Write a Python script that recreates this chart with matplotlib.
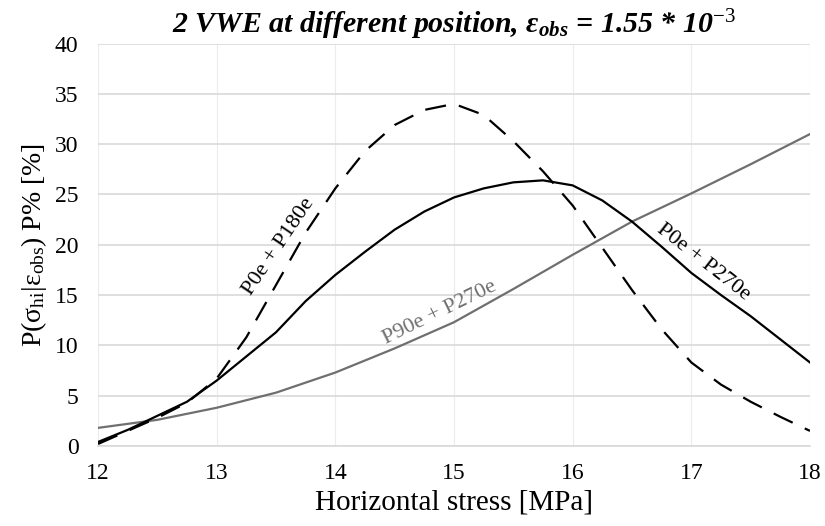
import matplotlib
matplotlib.use("Agg")
import matplotlib.pyplot as plt

plt.rcParams['font.family'] = ['Liberation Serif', 'DejaVu Serif']
plt.rcParams['mathtext.fontset'] = 'custom'
plt.rcParams['mathtext.rm'] = 'Liberation Serif'
plt.rcParams['mathtext.it'] = 'Liberation Serif:italic:bold'
plt.rcParams['mathtext.bf'] = 'Liberation Serif:bold'

# stress [MPa] and probability [%]
x_fine = [12.0, 12.25, 12.5, 12.75, 13.0, 13.25, 13.5, 13.75, 14.0, 14.25, 14.5, 14.75,
          15.0, 15.25, 15.5, 15.75, 16.0, 16.25, 16.5, 16.75, 17.0, 17.25, 17.5, 17.75, 18.0]
p0_p180 = [0.2, 1.5, 2.8, 4.3, 6.7, 10.8, 16.0, 21.2, 25.6, 29.3, 31.9, 33.4,
           34.0, 32.9, 30.3, 27.3, 23.9, 19.7, 15.5, 11.6, 8.3, 6.1, 4.4, 2.9, 1.5]
p0_p270 = [0.4, 1.6, 3.0, 4.4, 6.5, 8.9, 11.3, 14.4, 17.0, 19.3, 21.5, 23.3,
           24.7, 25.6, 26.2, 26.4, 25.9, 24.4, 22.3, 19.8, 17.2, 15.0, 12.9, 10.6, 8.3]

x_coarse = [12.0, 12.5, 13.0, 13.5, 14.0, 14.5, 15.0, 15.5, 16.0, 16.5, 17.0, 17.5, 18.0]
p90_p270 = [1.8, 2.6, 3.8, 5.3, 7.3, 9.7, 12.3, 15.6, 19.0, 22.3, 25.1, 28.0, 31.0]

fig = plt.figure(figsize=(8.25, 5.26), dpi=100)
ax = fig.add_axes([0.1188, 0.1521, 0.863, 0.7652])

ax.plot(x_coarse, p90_p270, color='#6f6f6f', lw=1.6)
ax.plot(x_fine, p0_p270, color='black', lw=1.6)
ax.plot(x_fine, p0_p180, color='black', lw=1.6, dashes=(9.5, 6))

# inline curve labels
ax.text(13.52, 19.8, 'P0e + P180e', rotation=56, fontsize=16,
        ha='center', va='center', rotation_mode='anchor')
ax.text(14.88, 13.2, 'P90e + P270e', rotation=26, fontsize=16, color='#6f6f6f',
        ha='center', va='center', rotation_mode='anchor')
ax.text(17.1, 18.3, 'P0e + P270e', rotation=-38, fontsize=16,
        ha='center', va='center', rotation_mode='anchor')

ax.set_xlim(12, 18)
ax.set_ylim(0, 40)
ax.set_xticks(range(12, 19))
ax.set_yticks(range(0, 41, 5))
ax.tick_params(length=0, labelsize=17)
ax.tick_params(axis='y', pad=14)
ax.tick_params(axis='x', pad=12)

ax.grid(axis='y', color='#d9d9d9', lw=1.2)
ax.grid(axis='x', color='#ececec', lw=0.8)
ax.set_axisbelow(True)
for s in ['top', 'right', 'left']:
    ax.spines[s].set_visible(False)
ax.spines['bottom'].set_color('#d9d9d9')
ax.spines['bottom'].set_linewidth(1.2)

ax.set_xlabel('Horizontal stress [MPa]', fontsize=21, labelpad=4)
ax.set_ylabel('P(σ$_{\\mathrm{hi}}$|ε$_{\\mathrm{obs}}$) P% [%]', fontsize=20, labelpad=4)
ax.set_title('2 VWE at different position, ε$_{obs}$ = 1.55 * 10$^{\\mathit{-3}}$',
             fontsize=21.5, fontweight='bold', style='italic', pad=7)

fig.savefig('out.png', dpi=100)
